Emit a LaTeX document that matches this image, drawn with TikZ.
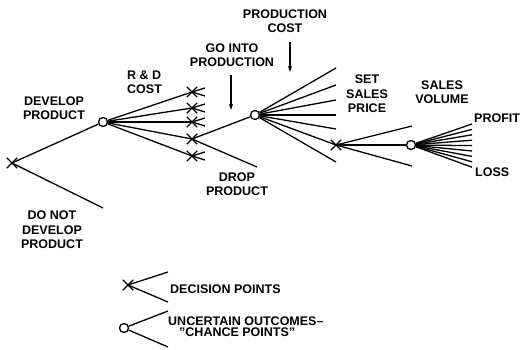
\documentclass[tikz,border=0pt]{standalone}
\usepackage{fontspec}
\setmainfont{Liberation Sans}
\usetikzlibrary{shapes.misc,arrows.meta}

\begin{document}
\begin{tikzpicture}[x=1pt,y=-1pt,
    lbl/.style={font=\bfseries\fontsize{12.5}{14.5}\selectfont, align=center, inner sep=0pt},
    decpt/.style={draw, cross out, minimum size=9pt, inner sep=0pt, line width=1.3pt},
    chancept/.style={draw, circle, minimum size=9pt, inner sep=0pt, line width=1.3pt},
    branch/.style={line width=1.3pt},
    pointer/.style={line width=1.3pt, -{Stealth[length=6pt,width=4pt]}}]
  \useasboundingbox (0,0) rectangle (521,350);
  %
  % Decision and chance points:
  \node[decpt] (d0) at (12,163) {};
  \node[chancept] (c1) at (103,122) {};
  \foreach \y [count=\i] in {92,108,122,139,156}
    \node[decpt] (rd\i) at (192,\y) {};
  \node[chancept] (c2) at (255,115) {};
  \node[decpt] (d3) at (336,145) {};
  \node[chancept] (c3) at (411,145) {};
  \coordinate (dnd) at (103,208);
  \coordinate (drop) at (257,167);
  %
  % Branches:
  \draw[branch] (d0.center) -- (c1);
  \draw[branch] (d0.center) -- (dnd);
  \foreach \i in {1,...,5}
    \draw[branch] (c1) -- (rd\i.center);
  \foreach \i in {1,2,3,5}
    \draw[branch] (rd\i.center) -- ++(13,-4) (rd\i.center) -- ++(13,4);
  \draw[branch] (rd4.center) -- (c2);
  \draw[branch] (rd4.center) -- (drop);
  \foreach \y in {68,85,100,115,129,162} {
    \coordinate (pc\y) at (336,\y);
    \draw[branch] (c2) -- (pc\y);
  }
  \draw[branch] (c2) -- (d3.center);
  \coordinate (spu) at (412,126);
  \coordinate (spl) at (412,166);
  \draw[branch] (d3.center) -- (spu);
  \draw[branch] (d3.center) -- (c3);
  \draw[branch] (d3.center) -- (spl);
  \foreach \k in {0,...,8} {
    \coordinate (sv\k) at (472,124+5.4*\k);
    \draw[branch] (c3) -- (sv\k);
  }
  %
  % Labels:
  \node[lbl] (develop) at (54,108) {DEVELOP\\PRODUCT};
  \node[lbl] (notdev) at (52,230) {DO NOT\\DEVELOP\\PRODUCT};
  \node[lbl, align=left, anchor=west] (rdcost) at (127,82) {R \& D\\COST};
  \node[lbl] (dropprod) at (237,184) {DROP\\PRODUCT};
  \node[lbl] (goinfo) at (232,55) {GO INTO\\PRODUCTION};
  \node[lbl] (prodcost) at (285,21) {PRODUCTION\\COST};
  \node[lbl] (setprice) at (367,94) {SET\\SALES\\PRICE};
  \node[lbl] (salesvol) at (442,92) {SALES\\VOLUME};
  \node[lbl, anchor=west] (profit) at (474,118) {PROFIT};
  \node[lbl, anchor=west] (loss) at (475,172) {LOSS};
  %
  % Pointers:
  \coordinate (gotip) at (231,110);
  \coordinate (pctip) at (290,72);
  \draw[pointer, shorten <=8pt] (goinfo.south -| gotip) -- (gotip);
  \draw[pointer, shorten <=9pt] (prodcost.south -| pctip) -- (pctip);
  %
  % Legend:
  \node[decpt] (legd) at (128,285) {};
  \coordinate (legdu) at (168,272);
  \coordinate (legdl) at (168,302);
  \draw[branch] (legd.center) -- (legdu);
  \draw[branch] (legd.center) -- (legdl);
  \node[lbl, anchor=west] (legdtext) at (170,289) {DECISION POINTS};
  \node[chancept] (legc) at (124,328) {};
  \coordinate (legcu) at (168,311);
  \coordinate (legcl) at (168,347);
  \draw[branch] (legc) -- (legcu);
  \draw[branch] (legc) -- (legcl);
  \node[lbl, anchor=west] (legctext) at (168,321) {UNCERTAIN OUTCOMES--};
  \node[lbl, anchor=west] (legctextb) at (179,332) {\char34 CHANCE POINTS\char34};
\end{tikzpicture}
\end{document}
